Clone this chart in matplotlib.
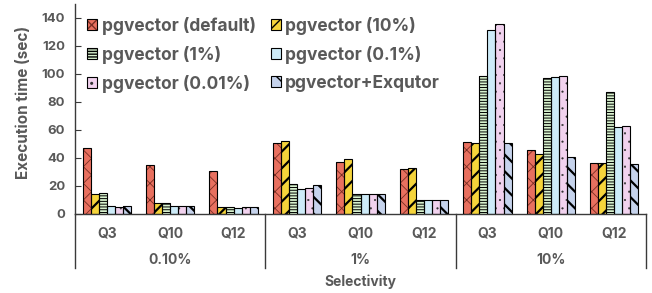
import matplotlib
matplotlib.use("Agg")
import matplotlib.pyplot as plt
from matplotlib.patches import Patch
from matplotlib.lines import Line2D
import numpy as np

groups = ["0.10%", "1%", "10%"]
queries = ["Q3", "Q10", "Q12"]
series = ["pgvector (default)", "pgvector (10%)", "pgvector (1%)",
          "pgvector (0.1%)", "pgvector (0.01%)", "pgvector+Exqutor"]

v_default = [47.4, 35.0, 30.5, 50.7, 37.4, 32.0, 51.4, 45.7, 36.4]
v_10 = [14.3, 8.0, 5.0, 52.4, 39.0, 32.6, 51.0, 42.6, 36.4]
v_1 = [14.8, 8.0, 5.0, 21.2, 14.0, 9.8, 98.3, 97.4, 87.4]
v_01 = [6.0, 5.5, 4.5, 17.9, 14.0, 9.8, 131.7, 97.6, 62.1]
v_001 = [5.2, 5.5, 4.8, 18.3, 14.0, 10.0, 135.5, 98.3, 62.6]
v_exq = [6.0, 5.8, 5.0, 20.5, 14.0, 9.8, 50.5, 40.5, 35.7]
values = [v_default, v_10, v_1, v_01, v_001, v_exq]

yticks = [0, 20, 40, 60, 80, 100, 120, 140]

faces = ["#E8705F", "#F5D43B", "#D8F2CE", "#CDEBF8", "#F1D2EE", "#C6D3EC"]
hatches = ["xx", "//", "------", "", "..", "\\\\"]
hcolors = ["#7A2E24", "black", "black", "black", "#333333", "black"]
hlw = [0.6, 1.6, 0.7, 0.6, 0.3, 1.6]

GRAY = "#595959"
AXC = "#3a3a3a"
FONT = ["Inter", "DejaVu Sans"]
plt.rcParams["font.family"] = FONT
plt.rcParams["font.weight"] = "bold"

fig = plt.figure(figsize=(6.52, 2.93), dpi=100)
AXW, AXH = 571, 210
ax = fig.add_axes([75/652, 79/293, AXW/652, AXH/293])

n = len(groups) * len(queries)
x = np.arange(n)
w = 0.127
handles = []
for i, (vals, fc, h, hc, lw) in enumerate(zip(values, faces, hatches, hcolors, hlw)):
    pos = x + (i - 2.5) * w
    with plt.rc_context({"hatch.linewidth": lw}):
        ax.bar(pos, vals, w, color=fc, hatch=h, edgecolor=hc, linewidth=0, zorder=2)
        p1 = Patch(facecolor=fc, hatch=h, edgecolor=hc, linewidth=0)
    ax.bar(pos, vals, w, fill=False, edgecolor="black", linewidth=0.8, zorder=3)
    p2 = Patch(fill=False, edgecolor="black", linewidth=0.8)
    handles.append((p1, p2))

ax.set_xlim(-0.5, n - 0.5)
ax.set_ylim(0, 150)
ax.set_yticks(yticks)
ax.set_yticklabels([str(t) for t in yticks], color=GRAY, fontsize=9.5, fontweight="bold")
ax.tick_params(axis="y", direction="in", length=4, width=0.8, color=AXC, pad=7)
ax.set_xticks([])
for s in ["top", "right"]:
    ax.spines[s].set_visible(False)
for s in ["left", "bottom"]:
    ax.spines[s].set_color(AXC)
    ax.spines[s].set_linewidth(1.0)

ax.set_ylabel("Execution time (sec)", color=GRAY, fontsize=11, fontweight="bold")
ax.yaxis.set_label_coords((31 - 75) / AXW, (214 - 102.5) / AXH)

tr = ax.get_xaxis_transform()
q_y = -(233 - 214) / AXH
g_y = -(260 - 214) / AXH
sep_bottom = -(268 - 214) / AXH
for k in range(n):
    ax.text(x[k], q_y, queries[k % 3], transform=tr, ha="center", va="center",
            color=GRAY, fontsize=10, fontweight="bold")
for gi, g in enumerate(groups):
    ax.text(gi * 3 + 1, g_y, g, transform=tr, ha="center", va="center",
            color=GRAY, fontsize=10, fontweight="bold")
for xs in [-0.5, 2.5, 5.5, 8.5]:
    ax.add_line(Line2D([xs, xs], [0, sep_bottom], transform=tr, color=AXC,
                       linewidth=1.0, clip_on=False))
ax.text(4, -(281.5 - 214) / AXH, "Selectivity", transform=tr, ha="center", va="center",
        color=GRAY, fontsize=10, fontweight="bold")

# legend is filled row by row in the reference (2 columns)
order = [0, 2, 4, 1, 3, 5]
leg = ax.legend([handles[i] for i in order], [series[i] for i in order], ncol=2,
                loc="upper left", bbox_to_anchor=(12 / AXW, 1 - 13 / AXH),
                frameon=False, fontsize=12.5, handlelength=0.6, handleheight=0.6,
                handletextpad=0.25, labelspacing=0.63, columnspacing=0.85,
                borderaxespad=0.0, borderpad=0.0)
for t in leg.get_texts():
    t.set_color(GRAY)
    t.set_fontweight("bold")

fig.savefig("out.png", dpi=100)
